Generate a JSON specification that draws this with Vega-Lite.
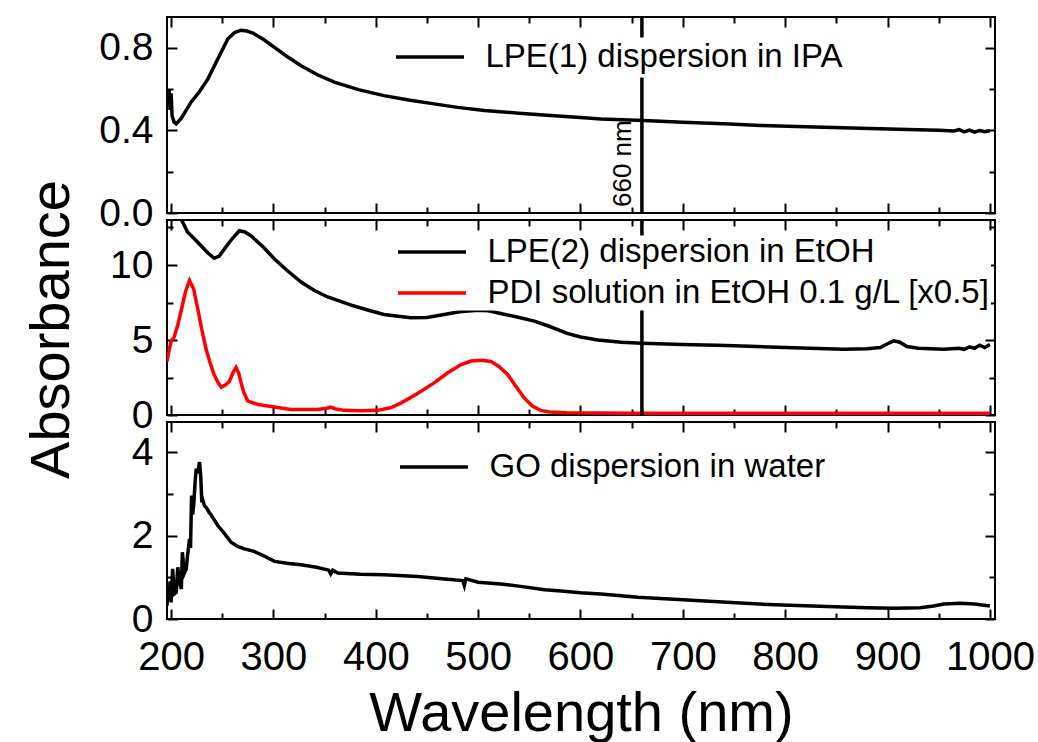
{
"$schema": "https://vega.github.io/schema/vega-lite/v6.json",
"background": "white",
"padding": {"left": 22, "top": 14, "right": 2, "bottom": 5},
"config": {
 "view": {"stroke": "black", "strokeWidth": 2},
 "font": "Liberation Sans",
 "axis": {"domain": false, "grid": false, "ticks": true, "tickColor": "black", "tickWidth": 2, "labelColor": "black", "labelFont": "Liberation Sans", "titleFont": "Liberation Sans", "titleColor": "black", "titleFontWeight": "normal", "labelFlush": false, "labelOverlap": false},
 "legend": {"labelFont": "Liberation Sans", "labelColor": "black"}
},
"datasets": {
 "marker": [{"wl": 660}],
 "ipa": [
  {"wl":197,"a":0.56},{"wl":198,"a":0.60},{"wl":199,"a":0.50},{"wl":200,"a":0.58},{"wl":201,"a":0.47},{"wl":203,"a":0.44},{"wl":205,"a":0.432},{"wl":210,"a":0.46},{"wl":219.5,"a":0.537},{"wl":228,"a":0.59},{"wl":236,"a":0.65},{"wl":245.6,"a":0.746},{"wl":255.4,"a":0.843},{"wl":262,"a":0.875},{"wl":268.4,"a":0.886},{"wl":274,"a":0.882},{"wl":280,"a":0.872},{"wl":290,"a":0.842},{"wl":301,"a":0.803},{"wl":314,"a":0.756},{"wl":327,"a":0.714},{"wl":343,"a":0.67},{"wl":359.5,"a":0.634},{"wl":383,"a":0.598},{"wl":408,"a":0.569},{"wl":432,"a":0.548},{"wl":457,"a":0.529},{"wl":480,"a":0.512},{"wl":506,"a":0.497},{"wl":540,"a":0.484},{"wl":571,"a":0.473},{"wl":600,"a":0.463},{"wl":620,"a":0.456},{"wl":662,"a":0.448},{"wl":700,"a":0.44},{"wl":740,"a":0.432},{"wl":776,"a":0.424},{"wl":820,"a":0.418},{"wl":874,"a":0.411},{"wl":920,"a":0.405},{"wl":950,"a":0.401},{"wl":965,"a":0.398},{"wl":970,"a":0.404},{"wl":975,"a":0.393},{"wl":980,"a":0.402},{"wl":985,"a":0.392},{"wl":990,"a":0.400},{"wl":995,"a":0.394},{"wl":1000,"a":0.398}
 ],
 "etoh": [
  {"s":"LPE(2) dispersion in EtOH","wl":196,"a":14.5},{"s":"LPE(2) dispersion in EtOH","wl":200,"a":14.0},{"s":"LPE(2) dispersion in EtOH","wl":205,"a":13.4},{"s":"LPE(2) dispersion in EtOH","wl":211,"a":12.9},{"s":"LPE(2) dispersion in EtOH","wl":216,"a":12.2},{"s":"LPE(2) dispersion in EtOH","wl":222,"a":11.8},{"s":"LPE(2) dispersion in EtOH","wl":229,"a":11.3},{"s":"LPE(2) dispersion in EtOH","wl":236,"a":10.8},{"s":"LPE(2) dispersion in EtOH","wl":242,"a":10.45},{"s":"LPE(2) dispersion in EtOH","wl":247,"a":10.6},{"s":"LPE(2) dispersion in EtOH","wl":252,"a":11.06},{"s":"LPE(2) dispersion in EtOH","wl":259,"a":11.7},{"s":"LPE(2) dispersion in EtOH","wl":266.7,"a":12.28},{"s":"LPE(2) dispersion in EtOH","wl":272,"a":12.2},{"s":"LPE(2) dispersion in EtOH","wl":278,"a":11.95},{"s":"LPE(2) dispersion in EtOH","wl":290,"a":11.2},{"s":"LPE(2) dispersion in EtOH","wl":301,"a":10.4},{"s":"LPE(2) dispersion in EtOH","wl":314,"a":9.6},{"s":"LPE(2) dispersion in EtOH","wl":327,"a":8.86},{"s":"LPE(2) dispersion in EtOH","wl":340,"a":8.3},{"s":"LPE(2) dispersion in EtOH","wl":353,"a":7.87},{"s":"LPE(2) dispersion in EtOH","wl":376,"a":7.32},{"s":"LPE(2) dispersion in EtOH","wl":392,"a":7.0},{"s":"LPE(2) dispersion in EtOH","wl":408,"a":6.7},{"s":"LPE(2) dispersion in EtOH","wl":434,"a":6.48},{"s":"LPE(2) dispersion in EtOH","wl":450,"a":6.5},{"s":"LPE(2) dispersion in EtOH","wl":464,"a":6.66},{"s":"LPE(2) dispersion in EtOH","wl":482,"a":6.88},{"s":"LPE(2) dispersion in EtOH","wl":499.5,"a":6.99},{"s":"LPE(2) dispersion in EtOH","wl":510,"a":6.95},{"s":"LPE(2) dispersion in EtOH","wl":522,"a":6.77},{"s":"LPE(2) dispersion in EtOH","wl":540,"a":6.5},{"s":"LPE(2) dispersion in EtOH","wl":555,"a":6.26},{"s":"LPE(2) dispersion in EtOH","wl":570,"a":5.9},{"s":"LPE(2) dispersion in EtOH","wl":587,"a":5.44},{"s":"LPE(2) dispersion in EtOH","wl":600,"a":5.2},{"s":"LPE(2) dispersion in EtOH","wl":617,"a":5.0},{"s":"LPE(2) dispersion in EtOH","wl":640,"a":4.85},{"s":"LPE(2) dispersion in EtOH","wl":660,"a":4.78},{"s":"LPE(2) dispersion in EtOH","wl":700,"a":4.7},{"s":"LPE(2) dispersion in EtOH","wl":743,"a":4.63},{"s":"LPE(2) dispersion in EtOH","wl":800,"a":4.5},{"s":"LPE(2) dispersion in EtOH","wl":857,"a":4.39},{"s":"LPE(2) dispersion in EtOH","wl":880,"a":4.42},{"s":"LPE(2) dispersion in EtOH","wl":893,"a":4.5},{"s":"LPE(2) dispersion in EtOH","wl":900,"a":4.75},{"s":"LPE(2) dispersion in EtOH","wl":906,"a":4.94},{"s":"LPE(2) dispersion in EtOH","wl":912,"a":4.85},{"s":"LPE(2) dispersion in EtOH","wl":919,"a":4.56},{"s":"LPE(2) dispersion in EtOH","wl":930,"a":4.45},{"s":"LPE(2) dispersion in EtOH","wl":955,"a":4.39},{"s":"LPE(2) dispersion in EtOH","wl":970,"a":4.45},{"s":"LPE(2) dispersion in EtOH","wl":975,"a":4.38},{"s":"LPE(2) dispersion in EtOH","wl":980,"a":4.55},{"s":"LPE(2) dispersion in EtOH","wl":985,"a":4.45},{"s":"LPE(2) dispersion in EtOH","wl":990,"a":4.65},{"s":"LPE(2) dispersion in EtOH","wl":995,"a":4.5},{"s":"LPE(2) dispersion in EtOH","wl":1000,"a":4.7},
  {"s":"PDI solution in EtOH 0.1 g/L [x0.5]","wl":196,"a":3.57},{"s":"PDI solution in EtOH 0.1 g/L [x0.5]","wl":198,"a":4.3},{"s":"PDI solution in EtOH 0.1 g/L [x0.5]","wl":200,"a":4.9},{"s":"PDI solution in EtOH 0.1 g/L [x0.5]","wl":203,"a":5.2},{"s":"PDI solution in EtOH 0.1 g/L [x0.5]","wl":206.5,"a":6.0},{"s":"PDI solution in EtOH 0.1 g/L [x0.5]","wl":210,"a":7.0},{"s":"PDI solution in EtOH 0.1 g/L [x0.5]","wl":214,"a":8.2},{"s":"PDI solution in EtOH 0.1 g/L [x0.5]","wl":218,"a":8.97},{"s":"PDI solution in EtOH 0.1 g/L [x0.5]","wl":222,"a":8.4},{"s":"PDI solution in EtOH 0.1 g/L [x0.5]","wl":226,"a":7.1},{"s":"PDI solution in EtOH 0.1 g/L [x0.5]","wl":230,"a":5.7},{"s":"PDI solution in EtOH 0.1 g/L [x0.5]","wl":234,"a":4.45},{"s":"PDI solution in EtOH 0.1 g/L [x0.5]","wl":238,"a":3.5},{"s":"PDI solution in EtOH 0.1 g/L [x0.5]","wl":242,"a":2.69},{"s":"PDI solution in EtOH 0.1 g/L [x0.5]","wl":246,"a":2.15},{"s":"PDI solution in EtOH 0.1 g/L [x0.5]","wl":249,"a":1.85},{"s":"PDI solution in EtOH 0.1 g/L [x0.5]","wl":253,"a":2.0},{"s":"PDI solution in EtOH 0.1 g/L [x0.5]","wl":257,"a":2.25},{"s":"PDI solution in EtOH 0.1 g/L [x0.5]","wl":261,"a":2.9},{"s":"PDI solution in EtOH 0.1 g/L [x0.5]","wl":263.5,"a":3.17},{"s":"PDI solution in EtOH 0.1 g/L [x0.5]","wl":266,"a":2.8},{"s":"PDI solution in EtOH 0.1 g/L [x0.5]","wl":268,"a":2.25},{"s":"PDI solution in EtOH 0.1 g/L [x0.5]","wl":271,"a":1.5},{"s":"PDI solution in EtOH 0.1 g/L [x0.5]","wl":275,"a":0.93},{"s":"PDI solution in EtOH 0.1 g/L [x0.5]","wl":285,"a":0.7},{"s":"PDI solution in EtOH 0.1 g/L [x0.5]","wl":294.5,"a":0.6},{"s":"PDI solution in EtOH 0.1 g/L [x0.5]","wl":317,"a":0.37},{"s":"PDI solution in EtOH 0.1 g/L [x0.5]","wl":343,"a":0.37},{"s":"PDI solution in EtOH 0.1 g/L [x0.5]","wl":352,"a":0.45},{"s":"PDI solution in EtOH 0.1 g/L [x0.5]","wl":356,"a":0.53},{"s":"PDI solution in EtOH 0.1 g/L [x0.5]","wl":360,"a":0.42},{"s":"PDI solution in EtOH 0.1 g/L [x0.5]","wl":369,"a":0.31},{"s":"PDI solution in EtOH 0.1 g/L [x0.5]","wl":385,"a":0.28},{"s":"PDI solution in EtOH 0.1 g/L [x0.5]","wl":402,"a":0.31},{"s":"PDI solution in EtOH 0.1 g/L [x0.5]","wl":415,"a":0.5},{"s":"PDI solution in EtOH 0.1 g/L [x0.5]","wl":425,"a":0.81},{"s":"PDI solution in EtOH 0.1 g/L [x0.5]","wl":440,"a":1.4},{"s":"PDI solution in EtOH 0.1 g/L [x0.5]","wl":457,"a":2.14},{"s":"PDI solution in EtOH 0.1 g/L [x0.5]","wl":470,"a":2.8},{"s":"PDI solution in EtOH 0.1 g/L [x0.5]","wl":483,"a":3.35},{"s":"PDI solution in EtOH 0.1 g/L [x0.5]","wl":493,"a":3.6},{"s":"PDI solution in EtOH 0.1 g/L [x0.5]","wl":503,"a":3.65},{"s":"PDI solution in EtOH 0.1 g/L [x0.5]","wl":512.5,"a":3.57},{"s":"PDI solution in EtOH 0.1 g/L [x0.5]","wl":520,"a":3.25},{"s":"PDI solution in EtOH 0.1 g/L [x0.5]","wl":529,"a":2.69},{"s":"PDI solution in EtOH 0.1 g/L [x0.5]","wl":537,"a":1.9},{"s":"PDI solution in EtOH 0.1 g/L [x0.5]","wl":545,"a":1.14},{"s":"PDI solution in EtOH 0.1 g/L [x0.5]","wl":553,"a":0.6},{"s":"PDI solution in EtOH 0.1 g/L [x0.5]","wl":561,"a":0.31},{"s":"PDI solution in EtOH 0.1 g/L [x0.5]","wl":570,"a":0.2},{"s":"PDI solution in EtOH 0.1 g/L [x0.5]","wl":587,"a":0.15},{"s":"PDI solution in EtOH 0.1 g/L [x0.5]","wl":650,"a":0.12},{"s":"PDI solution in EtOH 0.1 g/L [x0.5]","wl":800,"a":0.12},{"s":"PDI solution in EtOH 0.1 g/L [x0.5]","wl":1000,"a":0.12}
 ],
 "go": [
  {"wl":196,"a":0.32},{"wl":197,"a":0.72},{"wl":198,"a":0.45},{"wl":199,"a":0.9},{"wl":200,"a":0.4},{"wl":201.5,"a":1.2},{"wl":203,"a":0.6},{"wl":205,"a":0.64},{"wl":206.5,"a":1.24},{"wl":208,"a":0.9},{"wl":210,"a":0.72},{"wl":211,"a":1.6},{"wl":213,"a":1.1},{"wl":214.8,"a":1.2},{"wl":216,"a":1.5},{"wl":218,"a":1.92},{"wl":219,"a":1.7},{"wl":220,"a":2.96},{"wl":221,"a":2.5},{"wl":222,"a":2.7},{"wl":223.5,"a":3.3},{"wl":224.6,"a":3.6},{"wl":226,"a":3.5},{"wl":227.8,"a":3.76},{"wl":229,"a":3.4},{"wl":230,"a":2.8},{"wl":231,"a":2.85},{"wl":232.5,"a":2.72},{"wl":235,"a":2.65},{"wl":237,"a":2.56},{"wl":239,"a":2.5},{"wl":240.5,"a":2.44},{"wl":242,"a":2.38},{"wl":245.6,"a":2.24},{"wl":252,"a":2.05},{"wl":258.6,"a":1.84},{"wl":265,"a":1.74},{"wl":271.6,"a":1.68},{"wl":281,"a":1.62},{"wl":290,"a":1.52},{"wl":301,"a":1.38},{"wl":315,"a":1.33},{"wl":327,"a":1.3},{"wl":342,"a":1.24},{"wl":354,"a":1.17},{"wl":356,"a":1.08},{"wl":358,"a":1.17},{"wl":362.8,"a":1.1},{"wl":385,"a":1.07},{"wl":408,"a":1.06},{"wl":441,"a":1.02},{"wl":470,"a":0.95},{"wl":485,"a":0.92},{"wl":486.5,"a":0.8},{"wl":488,"a":0.96},{"wl":500,"a":0.88},{"wl":522,"a":0.84},{"wl":545,"a":0.77},{"wl":565,"a":0.7},{"wl":581,"a":0.67},{"wl":600,"a":0.63},{"wl":620,"a":0.6},{"wl":656,"a":0.52},{"wl":700,"a":0.46},{"wl":743,"a":0.4},{"wl":790,"a":0.34},{"wl":841,"a":0.3},{"wl":880,"a":0.27},{"wl":906,"a":0.26},{"wl":932,"a":0.27},{"wl":945,"a":0.31},{"wl":955,"a":0.36},{"wl":971,"a":0.38},{"wl":985,"a":0.36},{"wl":1000,"a":0.31}
 ]
},
"spacing": 7,
"bounds": "flush",
"resolve": {"scale": {"color": "independent"}, "legend": {"color": "independent"}},
"vconcat": [
 {
  "width": 828, "height": 196,
  "data": {"name": "ipa"},
  "resolve": {"axis": {"x": "independent", "y": "independent"}},
  "layer": [
   {"mark": {"type": "point", "opacity": 0, "size": 1},
    "encoding": {
     "x": {"field": "wl", "type": "quantitative", "scale": {"domain": [196, 1005], "nice": false, "zero": false}, "axis": {"orient": "top", "values": [200,300,400,500,600,700,800,900,1000], "tickSize": -10, "labels": false, "title": null}},
     "y": {"field": "a", "type": "quantitative", "scale": {"domain": [0, 0.95], "nice": false}, "axis": {"orient": "right", "values": [0, 0.4, 0.8], "tickSize": -10, "labels": false, "title": null}}}},
   {"mark": {"type": "point", "opacity": 0, "size": 1},
    "encoding": {
     "x": {"field": "wl", "type": "quantitative", "axis": {"orient": "top", "values": [250,350,450,550,650,750,850,950], "tickSize": -6, "labels": false, "title": null}},
     "y": {"field": "a", "type": "quantitative", "axis": {"orient": "right", "values": [0.2, 0.6], "tickSize": -6, "labels": false, "title": null}}}},
   {"mark": {"type": "point", "opacity": 0, "size": 1},
    "encoding": {
     "x": {"field": "wl", "type": "quantitative", "axis": {"orient": "bottom", "values": [250,350,450,550,650,750,850,950], "tickSize": -6, "labels": false, "title": null}},
     "y": {"field": "a", "type": "quantitative", "axis": {"orient": "left", "values": [0.2, 0.6], "tickSize": -6, "labels": false, "title": null}}}},
   {"mark": {"type": "line", "strokeWidth": 3.5, "clip": true},
    "encoding": {
     "x": {"field": "wl", "type": "quantitative", "axis": {"orient": "bottom", "values": [200,300,400,500,600,700,800,900,1000], "tickSize": -10, "labels": false, "title": null}},
     "y": {"field": "a", "type": "quantitative", "axis": {"orient": "left", "values": [0, 0.4, 0.8], "format": ".1f", "tickSize": -10, "labelPadding": 24, "labelFontSize": 39, "title": null}},
     "color": {"datum": "LPE(1) dispersion in IPA", "scale": {"range": ["black"]},
      "legend": {"orient": "none", "legendX": 226, "legendY": 20.5, "title": null, "symbolType": "M-4,0H4", "symbolSize": 289, "symbolStrokeWidth": 3.5, "symbolOffset": 17.5, "labelOffset": 39, "labelFontSize": 33, "labelLimit": 0, "padding": 3, "fillColor": "white"}}}},
   {"data": {"name": "marker"}, "mark": {"type": "rule", "strokeWidth": 3.5, "color": "black"},
    "encoding": {"x": {"field": "wl", "type": "quantitative", "axis": null}}},
   {"data": {"name": "marker"}, "mark": {"type": "text", "angle": 270, "align": "left", "baseline": "bottom", "dx": 6, "dy": -6, "fontSize": 26, "font": "Liberation Sans", "color": "black"},
    "encoding": {"x": {"field": "wl", "type": "quantitative", "axis": null}, "y": {"datum": 0, "type": "quantitative", "axis": null}, "text": {"value": "660 nm"}}}
  ]
 },
 {
  "width": 828, "height": 195,
  "data": {"name": "etoh"},
  "resolve": {"axis": {"x": "independent", "y": "independent"}},
  "layer": [
   {"mark": {"type": "point", "opacity": 0, "size": 1},
    "encoding": {
     "x": {"field": "wl", "type": "quantitative", "scale": {"domain": [196, 1005], "nice": false, "zero": false}, "axis": {"orient": "top", "values": [200,300,400,500,600,700,800,900,1000], "tickSize": -10, "labels": false, "title": null}},
     "y": {"field": "a", "type": "quantitative", "scale": {"domain": [0, 13], "nice": false}, "axis": {"orient": "right", "values": [0, 5, 10], "tickSize": -10, "labels": false, "title": null}}}},
   {"mark": {"type": "point", "opacity": 0, "size": 1},
    "encoding": {
     "x": {"field": "wl", "type": "quantitative", "axis": {"orient": "top", "values": [250,350,450,550,650,750,850,950], "tickSize": -6, "labels": false, "title": null}},
     "y": {"field": "a", "type": "quantitative", "axis": {"orient": "right", "values": [2.5, 7.5, 12.5], "tickSize": -6, "labels": false, "title": null}}}},
   {"mark": {"type": "point", "opacity": 0, "size": 1},
    "encoding": {
     "x": {"field": "wl", "type": "quantitative", "axis": {"orient": "bottom", "values": [250,350,450,550,650,750,850,950], "tickSize": -6, "labels": false, "title": null}},
     "y": {"field": "a", "type": "quantitative", "axis": {"orient": "left", "values": [2.5, 7.5, 12.5], "tickSize": -6, "labels": false, "title": null}}}},
   {"mark": {"type": "line", "strokeWidth": 3.5, "clip": true},
    "encoding": {
     "x": {"field": "wl", "type": "quantitative", "axis": {"orient": "bottom", "values": [200,300,400,500,600,700,800,900,1000], "tickSize": -10, "labels": false, "title": null}},
     "y": {"field": "a", "type": "quantitative", "axis": {"orient": "left", "values": [0, 5, 10], "tickSize": -10, "labelPadding": 24, "labelFontSize": 39, "title": "Absorbance", "titleFontSize": 56, "titleX": -99, "titleY": 109, "titleAngle": 270, "titleAlign": "center", "titleBaseline": "alphabetic"}},
     "color": {"field": "s", "type": "nominal", "scale": {"domain": ["LPE(2) dispersion in EtOH", "PDI solution in EtOH 0.1 g/L [x0.5]"], "range": ["black", "#ff0000"]},
      "legend": {"orient": "none", "legendX": 231, "legendY": 15.5, "title": null, "symbolType": "M-4,0H4", "symbolSize": 289, "symbolStrokeWidth": 3.5, "symbolOffset": 17.5, "labelOffset": 39, "labelFontSize": 33, "labelLimit": 0, "rowPadding": 7, "padding": 0, "fillColor": "white"}}}},
   {"data": {"name": "marker"}, "mark": {"type": "rule", "strokeWidth": 3.5, "color": "black"},
    "encoding": {"x": {"field": "wl", "type": "quantitative", "axis": null}}}
  ]
 },
 {
  "width": 828, "height": 197,
  "data": {"name": "go"},
  "resolve": {"axis": {"x": "independent", "y": "independent"}},
  "layer": [
   {"mark": {"type": "point", "opacity": 0, "size": 1},
    "encoding": {
     "x": {"field": "wl", "type": "quantitative", "scale": {"domain": [196, 1005], "nice": false, "zero": false}, "axis": {"orient": "top", "values": [200,300,400,500,600,700,800,900,1000], "tickSize": -10, "labels": false, "title": null}},
     "y": {"field": "a", "type": "quantitative", "scale": {"domain": [0, 4.72], "nice": false}, "axis": {"orient": "right", "values": [0, 2, 4], "tickSize": -10, "labels": false, "title": null}}}},
   {"mark": {"type": "point", "opacity": 0, "size": 1},
    "encoding": {
     "x": {"field": "wl", "type": "quantitative", "axis": {"orient": "top", "values": [250,350,450,550,650,750,850,950], "tickSize": -6, "labels": false, "title": null}},
     "y": {"field": "a", "type": "quantitative", "axis": {"orient": "right", "values": [1, 3], "tickSize": -6, "labels": false, "title": null}}}},
   {"mark": {"type": "point", "opacity": 0, "size": 1},
    "encoding": {
     "x": {"field": "wl", "type": "quantitative", "axis": {"orient": "bottom", "values": [250,350,450,550,650,750,850,950], "tickSize": -6, "labels": false, "title": null}},
     "y": {"field": "a", "type": "quantitative", "axis": {"orient": "left", "values": [1, 3], "tickSize": -6, "labels": false, "title": null}}}},
   {"mark": {"type": "line", "strokeWidth": 3.5, "clip": true},
    "encoding": {
     "x": {"field": "wl", "type": "quantitative", "axis": {"orient": "bottom", "values": [200,300,400,500,600,700,800,900,1000], "format": "d", "tickSize": -10, "labelPadding": 28, "labelFontSize": 40, "title": "Wavelength (nm)", "titleFontSize": 56, "titlePadding": 9}},
     "y": {"field": "a", "type": "quantitative", "axis": {"orient": "left", "values": [0, 2, 4], "tickSize": -10, "labelPadding": 24, "labelFontSize": 39, "title": null}},
     "color": {"datum": "GO dispersion in water", "scale": {"range": ["black"]},
      "legend": {"orient": "none", "legendX": 233, "legendY": 28.5, "title": null, "symbolType": "M-4,0H4", "symbolSize": 289, "symbolStrokeWidth": 3.5, "symbolOffset": 17.5, "labelOffset": 39, "labelFontSize": 33, "labelLimit": 0, "padding": 0}}}}
  ]
 }
]
}
